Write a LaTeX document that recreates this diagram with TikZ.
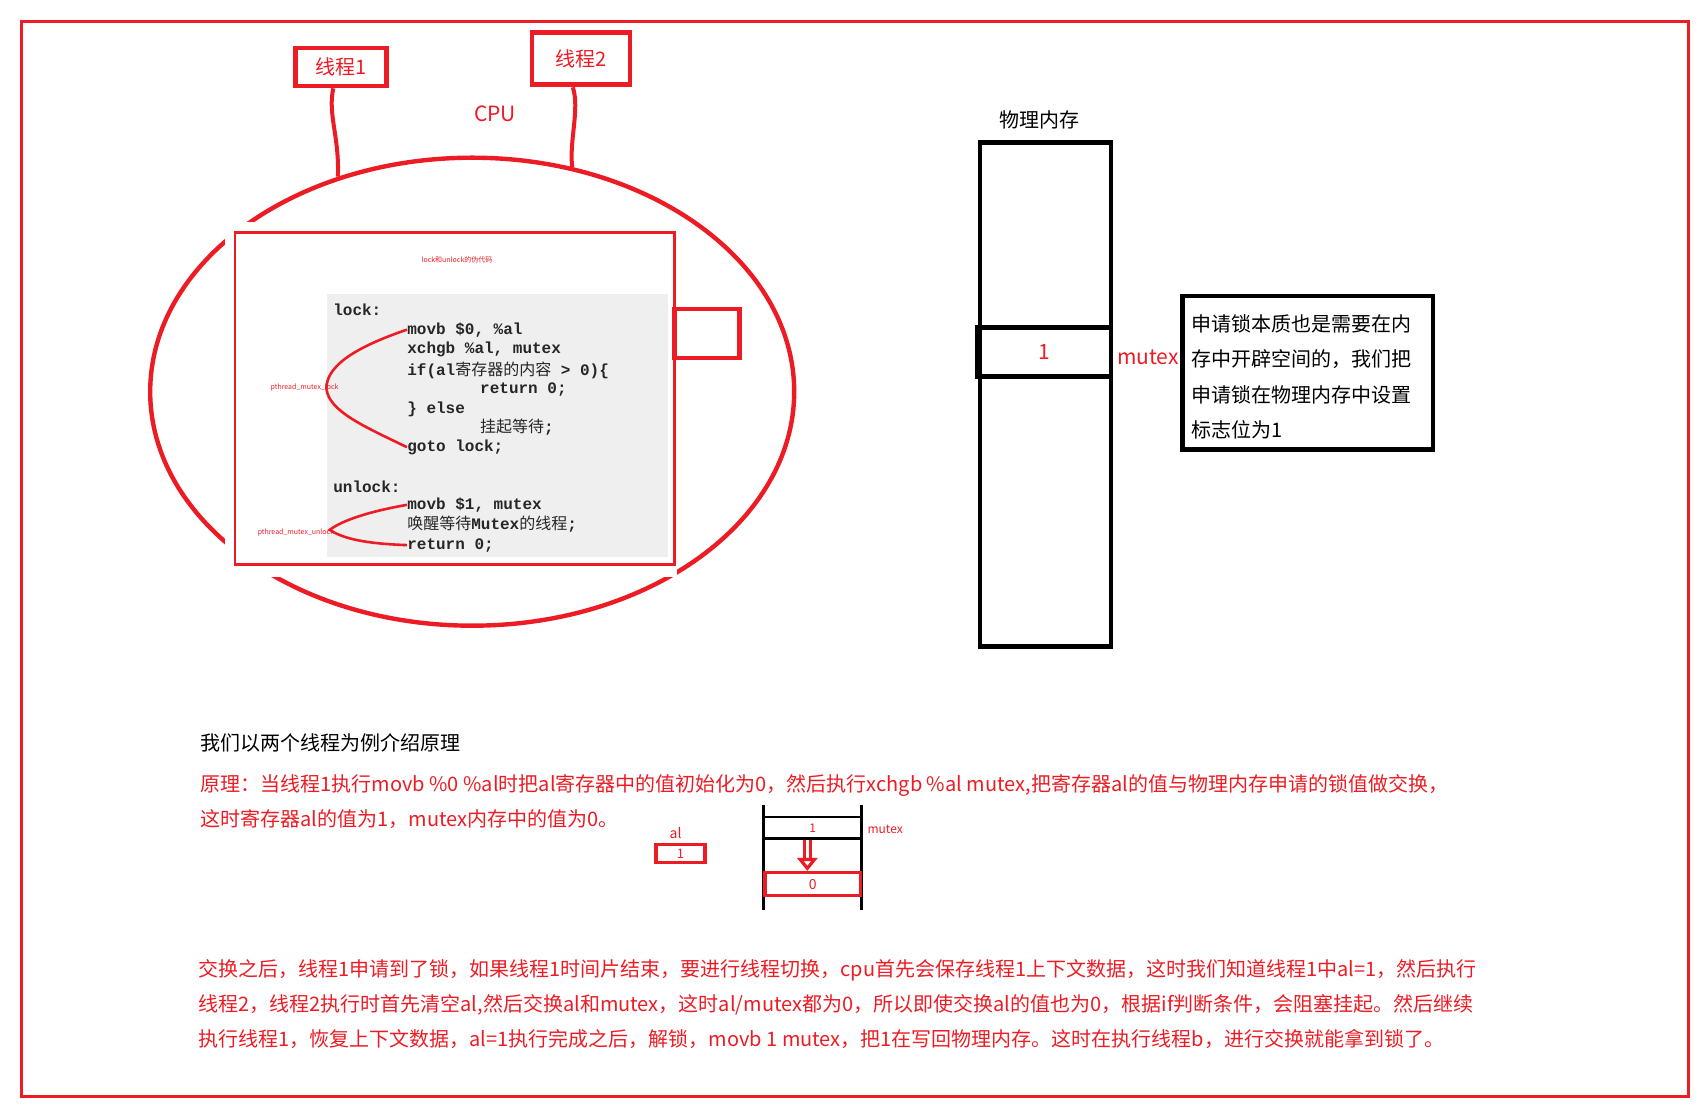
\documentclass[tikz,border=0pt]{standalone}
\usepackage{fontspec}
\setmainfont{Noto Sans CJK SC}
\setmonofont{Liberation Mono}
\newfontfamily\cjk{Noto Sans CJK SC}
\usetikzlibrary{shapes.geometric, arrows.meta}
\definecolor{paintred}{RGB}{237, 28, 36}
\definecolor{codegray}{RGB}{239, 239, 239}

\begin{document}
\begin{tikzpicture}[x=0.544pt, y=-0.544pt,
    redbox/.style={draw=paintred, line width=2.4pt, inner sep=0, text=paintred},
    blackbox/.style={draw=black, line width=2.2pt, inner sep=0},
    code/.style={anchor=west, inner sep=0, text=black!85,
        font=\fontsize{8}{9}\selectfont\ttfamily\bfseries},
    tinylabel/.style={inner sep=0, text=paintred, font=\fontsize{3.5}{4}\selectfont},
    para/.style={anchor=west, align=left, inner sep=0,
        font=\fontsize{10}{17.4}\selectfont}]

    \useasboundingbox (0,0) rectangle (1568,1022);
    \draw[paintred, line width=1.6pt] (20,20) rectangle (1552,1008);

    % threads on the cpu
    \node[redbox, minimum width=45.2pt, minimum height=19pt,
        font=\fontsize{10}{12}\selectfont] (t1) at (313.5,61.5) {线程1};
    \node[redbox, minimum width=49pt, minimum height=26.1pt,
        font=\fontsize{10}{12}\selectfont] (t2) at (534,54) {线程2};
    \node[text=paintred, font=\fontsize{10.5}{12}\selectfont]
        (cpulabel) at (455,105) {CPU};
    \node[draw=paintred, line width=2.2pt, ellipse, inner sep=0,
        minimum width=322pt, minimum height=234pt] (cpu) at (434,360) {};
    \draw[paintred, line width=2pt]
        (t1.250) .. controls (301,105) and (312,125) .. (cpu.122);
    \draw[paintred, line width=2pt]
        (t2.254) .. controls (533,100) and (523,130) .. (cpu.66);

    % pasted code picture
    \fill[white] (207,204) rectangle (622,530);
    \fill[codegray] (301,270) rectangle (614,512);
    \draw[paintred, line width=1.4pt] (216,214) rectangle (620,519);
    \draw[paintred, line width=2.4pt] (620,284) rectangle (680,329);
    \node[tinylabel] (codetitle) at (420,239) {lock和unlock的伪代码};

    \node[code] (lockL) at (306,285) {lock:};
    \node[code] (movbA) at (374,303) {movb \$0, \%al};
    \node[code] (xchg) at (374,321) {xchgb \%al, mutex};
    \node[code] (ifL) at (374,340) {if(al{\cjk\mdseries 寄存器的内容} > 0)\{};
    \node[code] (retA) at (441,358) {return 0;};
    \node[code] (elseL) at (374,376) {\} else};
    \node[code] (hang) at (441,393) {{\cjk\mdseries 挂起等待};};
    \node[code] (gotoL) at (374,411) {goto lock;};
    \node[code] (unlockL) at (306,447) {unlock:};
    \node[code] (movbB) at (374,464) {movb \$1, mutex};
    \node[code] (wake) at (374,482) {{\cjk\mdseries 唤醒等待}Mutex{\cjk\mdseries 的线程};};
    \node[code] (retB) at (374,501) {return 0;};

    \coordinate (locktip) at (300,357);
    \draw[paintred, line width=1.3pt] (movbA.west)
        .. controls (330,318) and (300,335) .. (locktip)
        .. controls (302,378) and (335,392) .. (gotoL.west);
    \node[tinylabel] (locklab) at (280,356) {pthread\_mutex\_lock};
    \coordinate (unlocktip) at (303,487);
    \draw[paintred, line width=1.3pt] (movbB.west)
        .. controls (340,470) and (315,478) .. (unlocktip)
        .. controls (318,497) and (345,500) .. (retB.west);
    \node[tinylabel] (unlocklab) at (272,489) {pthread\_mutex\_unlock};

    % physical memory
    \node[font=\fontsize{10}{12}\selectfont] (memtitle) at (955,110) {物理内存};
    \node[blackbox, minimum width=65.3pt, minimum height=251.9pt]
        (mem) at (961,362.5) {};
    \node[blackbox, minimum width=66.9pt, minimum height=24.5pt, text=paintred,
        font=\fontsize{10.5}{12}\selectfont] (cell) at (959.5,323.5) {1};
    \node[text=paintred, font=\fontsize{10.5}{12}\selectfont]
        (mutexlab) at (1055,328) {mutex};
    \node[blackbox, minimum width=125.1pt, minimum height=76.7pt, inner xsep=4.4pt,
        text width=116pt, align=left, font=\fontsize{10}{17.6}\selectfont]
        (note) at (1202,342.5)
        {\rule{0pt}{12.6pt}申请锁本质也是需要在内\\存中开辟空间的，我们把\\申请锁在物理内存中设置\\标志位为1};

    % explanation
    \node[para] (intro) at (184,683) {我们以两个线程为例介绍原理};
    \node[para, text=paintred] (principle) at (184,737)
        {原理：当线程1执行movb \%0 \%al时把al寄存器中的值初始化为0，然后执行xchgb \%al mutex,把寄存器al的值与物理内存申请的锁值做交换，\\这时寄存器al的值为1，mutex内存中的值为0。};

    % small exchange sketch
    \draw[black, line width=1.4pt] (702,740) -- (702,836);
    \draw[black, line width=1.4pt] (792,740) -- (792,836);
    \node[draw=black, line width=1.4pt, inner sep=0, minimum width=49pt,
        minimum height=10.9pt, text=paintred, font=\fontsize{6}{7}\selectfont]
        (one) at (747,761) {1};
    \node[draw=paintred, line width=1.7pt, inner sep=0, minimum width=47.9pt,
        minimum height=11.4pt, text=paintred, font=\fontsize{7}{8}\selectfont]
        (zero) at (747,812.5) {0};
    \node[draw=paintred, line width=1.7pt, inner sep=0, minimum width=24.5pt,
        minimum height=9.2pt, text=paintred, font=\fontsize{6.5}{7}\selectfont]
        (alreg) at (625.5,784.5) {1};
    \node[inner sep=0, text=paintred, font=\fontsize{7}{8}\selectfont]
        (allab) at (621,766) {al};
    \node[anchor=west, inner sep=0, text=paintred, font=\fontsize{6}{7}\selectfont]
        (mutexsmall) at (797,762) {mutex};
    \draw[paintred, line width=1.6pt, double=white, double distance=1.3pt,
        -{Triangle[open, width=10pt, length=6.5pt, line width=1.6pt]}]
        ([xshift=-2.7pt]one.south) -- ([xshift=-2.7pt]zero.north);

    \node[para, text=paintred] (after) at (182,923)
        {交换之后，线程1申请到了锁，如果线程1时间片结束，要进行线程切换，cpu首先会保存线程1上下文数据，这时我们知道线程1中al=1，然后执行\\线程2，线程2执行时首先清空al,然后交换al和mutex，这时al/mutex都为0，所以即使交换al的值也为0，根据if判断条件，会阻塞挂起。然后继续\\执行线程1，恢复上下文数据，al=1执行完成之后，解锁，movb 1 mutex，把1在写回物理内存。这时在执行线程b，进行交换就能拿到锁了。};

\end{tikzpicture}
\end{document}
